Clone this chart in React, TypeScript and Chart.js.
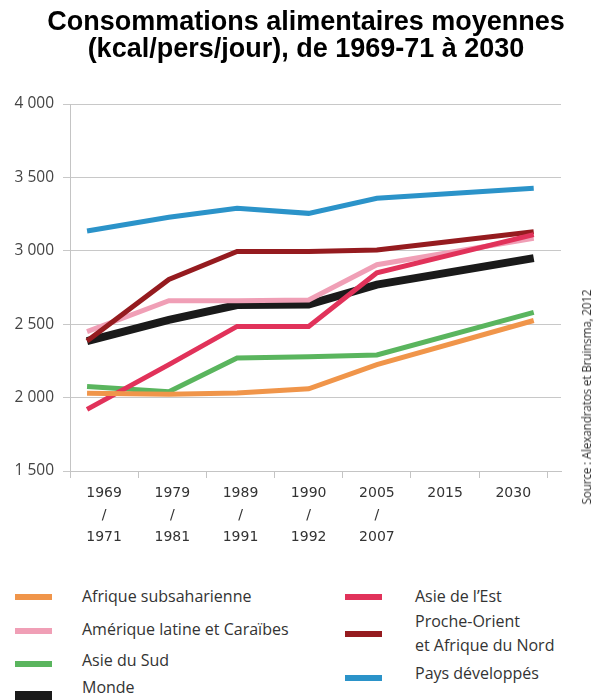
import React, { useEffect, useRef } from 'react';
import { Chart, registerables } from 'chart.js';

Chart.register(...registerables);

// Category tick labels (x axis)
const xTickLabels: (string | string[])[] = [
  ['1969', '/', '1971'],
  ['1979', '/', '1981'],
  ['1989', '/', '1991'],
  ['1990', '/', '1992'],
  ['2005', '/', '2007'],
  '2015',
  '2030',
];

// x value (in category units) of each observed point
const pointSlots = [-0.25, 0.95, 1.95, 3, 4, 6.3];

// kcal / person / day
const afriqueSubsaharienne = [2030, 2022, 2032, 2060, 2225, 2525];
const ameriqueLatine = [2450, 2660, 2660, 2665, 2905, 3085];
const asieDuSud = [2075, 2040, 2270, 2278, 2290, 2580];
const monde = [2385, 2530, 2630, 2635, 2770, 2950];
const asieDeLEst = [1920, 2225, 2485, 2485, 2850, 3110];
const procheOrient = [2385, 2805, 2995, 2995, 3005, 3130];
const paysDeveloppes = [3135, 3228, 3290, 3255, 3358, 3426];

const yMin = 1500;
const yMax = 4000;
const yStep = 500;

const titleLines = ['Consommations alimentaires moyennes', '(kcal/pers/jour), de 1969-71 à 2030'];
const sourceText = 'Source : Alexandratos et Bruinsma, 2012';

const COLORS = {
  orange: '#f0954a',
  pink: '#f09fb6',
  green: '#5ab55e',
  black: '#1a1a1a',
  red: '#e1325a',
  darkred: '#951b1f',
  blue: '#2b93c9',
};

// drawing order: first is on top
const series = [
  { label: 'Afrique subsaharienne', values: afriqueSubsaharienne, color: COLORS.orange, width: 5 },
  { label: 'Asie de l’Est', values: asieDeLEst, color: COLORS.red, width: 5 },
  { label: 'Proche-Orient et Afrique du Nord', values: procheOrient, color: COLORS.darkred, width: 5 },
  { label: 'Amérique latine et Caraïbes', values: ameriqueLatine, color: COLORS.pink, width: 5 },
  { label: 'Asie du Sud', values: asieDuSud, color: COLORS.green, width: 5 },
  { label: 'Monde', values: monde, color: COLORS.black, width: 8 },
  { label: 'Pays développés', values: paysDeveloppes, color: COLORS.blue, width: 5 },
];

const legendLeft = [
  { lines: ['Afrique subsaharienne'], color: COLORS.orange, textY: 597, markY: 597, markH: 6 },
  { lines: ['Amérique latine et Caraïbes'], color: COLORS.pink, textY: 630, markY: 631, markH: 6 },
  { lines: ['Asie du Sud'], color: COLORS.green, textY: 661, markY: 664, markH: 6 },
  { lines: ['Monde'], color: COLORS.black, textY: 688, markY: 696, markH: 10 },
];
const legendRight = [
  { lines: ['Asie de l’Est'], color: COLORS.red, textY: 597, markY: 597, markH: 6 },
  { lines: ['Proche-Orient', 'et Afrique du Nord'], color: COLORS.darkred, textY: 634, markY: 634, markH: 6 },
  { lines: ['Pays développés'], color: COLORS.blue, textY: 674, markY: 678, markH: 6 },
];

const fmt = (v: number) => String(v).replace(/\B(?=(\d{3})+(?!\d))/g, ' ');

export default function App() {
  const ref = useRef<HTMLCanvasElement | null>(null);

  useEffect(() => {
    if (!ref.current) return;
    const chart = new Chart(ref.current, {
      type: 'line',
      data: {
        datasets: series.map((s) => ({
          label: s.label,
          data: pointSlots.map((x, i) => ({ x, y: s.values[i] })),
          borderColor: s.color,
          backgroundColor: s.color,
          borderWidth: s.width,
          pointRadius: 0,
          tension: 0,
          fill: false,
          borderCapStyle: 'butt',
          borderJoinStyle: 'miter',
        })),
      },
      options: {
        animation: false,
        responsive: false,
        maintainAspectRatio: false,
        layout: { padding: { left: 0, right: 35, top: 104, bottom: 19 } },
        plugins: {
          legend: { display: false },
          tooltip: { enabled: false },
          title: { display: false },
        },
        scales: {
          x: {
            type: 'linear',
            min: -0.5,
            max: 6.7,
            afterBuildTicks: (scale: any) => {
              scale.ticks = xTickLabels.map((_, i) => ({ value: i }));
            },
            afterFit: (scale: any) => {
              scale.height = 70;
            },
            ticks: {
              autoSkip: false,
              maxRotation: 0,
              minRotation: 0,
              padding: 4,
              color: '#333',
              font: { family: 'DejaVu Sans', size: 14, lineHeight: 1.57 },
              callback: (_v: any, i: number) => xTickLabels[i],
            },
            grid: {
              drawOnChartArea: false,
              offset: true,
              tickLength: 7,
              color: '#c4c4c4',
            },
            border: { color: '#c4c4c4' },
          },
          y: {
            min: yMin,
            max: yMax,
            afterFit: (scale: any) => {
              scale.width = 70;
            },
            ticks: {
              stepSize: yStep,
              padding: 9,
              color: '#444',
              font: { family: 'Open Sans', size: 15.5 },
              callback: (v: any) => fmt(Number(v)),
            },
            grid: { color: '#c8c8c8', tickLength: 7 },
            border: { color: '#c4c4c4' },
          },
        },
      },
    } as any);
    return () => chart.destroy();
  }, []);

  const legendText = {
    position: 'absolute' as const,
    fontFamily: 'Open Sans',
    fontSize: 16,
    lineHeight: '24px',
    color: '#333',
    whiteSpace: 'nowrap' as const,
  };

  const renderLegend = (items: typeof legendLeft, markX: number, textX: number) =>
    items.map((it, k) => (
      <React.Fragment key={k}>
        <div
          style={{
            position: 'absolute',
            left: markX,
            top: it.markY - it.markH / 2,
            width: 37,
            height: it.markH,
            background: it.color,
          }}
        />
        <div style={{ ...legendText, left: textX, top: it.textY - 13 - (it.lines.length - 1) * 12 }}>
          {it.lines.map((l, j) => (
            <div key={j}>{l}</div>
          ))}
        </div>
      </React.Fragment>
    ));

  return (
    <div style={{ position: 'absolute', left: 0, top: 0, width: 596, height: 700, background: '#fff', overflow: 'hidden' }}>
      <canvas ref={ref} width={596} height={560} style={{ position: 'absolute', left: 0, top: 0, width: 596, height: 560 }} />
      <div
        style={{
          position: 'absolute',
          left: 8,
          top: 8,
          width: 596,
          textAlign: 'center',
          fontFamily: '"Liberation Sans", Arial, sans-serif',
          fontWeight: 'bold',
          fontSize: 27,
          lineHeight: '27px',
          color: '#000',
        }}
      >
        {titleLines.map((l, i) => (
          <div key={i}>{l}</div>
        ))}
      </div>
      <div
        style={{
          position: 'absolute',
          left: 586,
          top: 397,
          transform: 'translate(-50%, -50%) rotate(-90deg)',
          fontFamily: 'Open Sans',
          fontSize: 11.8,
          color: '#333',
          whiteSpace: 'nowrap',
          letterSpacing: '-0.2px',
        }}
      >
        {sourceText}
      </div>
      {renderLegend(legendLeft, 15, 82)}
      {renderLegend(legendRight, 345, 415)}
    </div>
  );
}
